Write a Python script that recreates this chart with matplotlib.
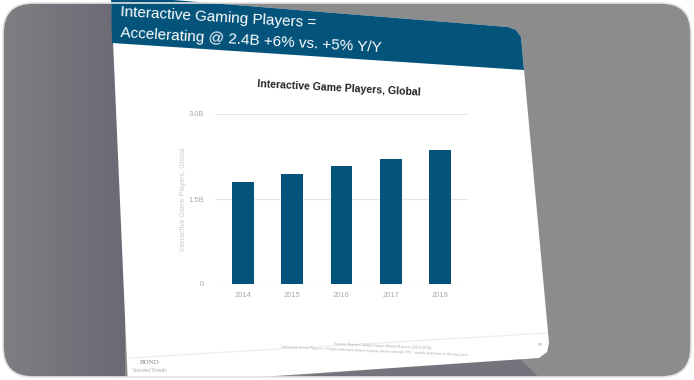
import numpy as np
import matplotlib
matplotlib.use("Agg")
import matplotlib.pyplot as plt
from matplotlib.patches import Polygon, FancyBboxPatch

# Datos del grafico
anios = ["2014", "2015", "2016", "2017", "2018"]
jugadores = [1.80, 1.95, 2.09, 2.21, 2.37]  # miles de millones
ticks_y = [0, 1.5, 3.0]
etiquetas_y = ["0", "1.5B", "3.0B"]

titulo_slide = ["Interactive Gaming Players =", "Accelerating @ 2.4B +6% vs. +5% Y/Y"]
titulo_chart = "Interactive Game Players, Global"
nota_fuente = "Source: Newzoo Global Games Market Reports (2014-2019)."
nota_def = ("Interactive Game Players = People who have played a game across "
            "console / PC / mobile platforms in the past year.")

AZUL = "#03537b"
W, H = 694, 380

plt.rcParams["font.family"] = ["Liberation Sans", "DejaVu Sans"]
fig = plt.figure(figsize=(W / 100, H / 100), dpi=100)
fig.patch.set_facecolor("white")

# fondo en coordenadas de pixel
bg = fig.add_axes([0, 0, 1, 1])
bg.set_xlim(0, W)
bg.set_ylim(H, 0)
bg.axis("off")

marco = FancyBboxPatch((3, 3), W - 6, H - 6, boxstyle="round,pad=0,rounding_size=30",
                       facecolor="none", edgecolor="#e4e4e4", lw=1.2, zorder=3)
bg.add_patch(marco)

# degradado gris (mas oscuro a la izquierda, bajo la diapositiva)
xs = np.linspace(0, 1, W)
izq = np.array([0x80, 0x7f, 0x82]) / 255
osc = np.array([0x6b, 0x69, 0x74]) / 255
der = np.array([0x8c, 0x8c, 0x8c]) / 255
grad = np.zeros((H, W, 3))
for i, x in enumerate(xs):
    px = x * W
    if px < 125:
        t = px / 125
        grad[:, i] = izq * (1 - t) + osc * t
    else:
        grad[:, i] = der
img = bg.imshow(grad, extent=(0, W, H, 0), zorder=1, aspect="auto")
clip = FancyBboxPatch((3, 3), W - 6, H - 6, boxstyle="round,pad=0,rounding_size=30",
                      facecolor="none", edgecolor="none", transform=bg.transData)
bg.add_patch(clip)
img.set_clip_path(clip)

# sombra bajo la esquina de la diapositiva
sombra = Polygon([(250, 380), (518, 357), (542, 380)], closed=True,
                 facecolor="#75747c", edgecolor="none", zorder=1.5)
bg.add_patch(sombra)
sombra.set_clip_path(clip)

# diapositiva blanca
slide = Polygon([(111, -5), (508, 27), (516, 30), (521, 37), (549, 343),
                 (547, 352), (539, 358), (128, 386)], closed=True,
                facecolor="white", edgecolor="none", zorder=2)
bg.add_patch(slide)

# cabecera azul
cabecera = Polygon([(111, -5), (508, 27), (516, 30), (521, 37), (524, 70), (112, 43)],
                   closed=True, facecolor=AZUL, edgecolor="none", zorder=2.1)
bg.add_patch(cabecera)

bg.text(120, 12, titulo_slide[0], color="white", fontsize=11, rotation=-3.3,
        rotation_mode="anchor", ha="left", va="center", zorder=4)
bg.text(120, 33, titulo_slide[1], color="white", fontsize=11, rotation=-3.3,
        rotation_mode="anchor", ha="left", va="center", zorder=4)

bg.text(339, 88, titulo_chart, color="#222222", fontsize=7.6, fontweight="bold",
        rotation=-3, rotation_mode="anchor", ha="center", va="center", zorder=4)

# pie de la diapositiva
bg.plot([128, 547], [358, 333], color="#ececec", lw=0.8, zorder=3)
bg.text(383, 346, nota_fuente, color="#aaaaaa", fontsize=2.6, rotation=-2.5,
        rotation_mode="anchor", ha="center", va="center", zorder=4)
bg.text(375, 351, nota_def, color="#aaaaaa", fontsize=2.6, rotation=-2.5,
        rotation_mode="anchor", ha="center", va="center", zorder=4)
bg.text(540, 345, "59", color="#999999", fontsize=3, ha="center", va="center", zorder=4)
bg.text(150, 363, "BOND", color="#888888", fontsize=5, family="Liberation Serif",
        ha="center", va="center", zorder=4)
bg.text(150, 371, "Internet Trends", color="#aaaaaa", fontsize=4, family="Liberation Serif",
        ha="center", va="center", zorder=4)

# grafico de barras
ax = fig.add_axes([215 / W, 1 - 284 / H, 253 / W, 170 / H])
ax.set_zorder(5)
ax.patch.set_alpha(0)
x = np.arange(len(anios))
ax.bar(x, jugadores, width=0.44, color=AZUL, zorder=3)
ax.set_xlim(-0.57, len(anios) - 0.43)
ax.set_ylim(0, 3.0)
ax.set_yticks(ticks_y)
ax.set_yticklabels(etiquetas_y)
ax.set_xticks(x)
ax.set_xticklabels(anios)
ax.tick_params(axis="both", length=0, labelsize=5.5, colors="#aaaaaa")
ax.tick_params(axis="y", pad=8)
ax.tick_params(axis="x", pad=6)
ax.grid(axis="y", color="#e6e6e6", lw=0.8, zorder=0)
for s in ax.spines.values():
    s.set_visible(False)
ax.set_ylabel("Interactive Game Players, Global", fontsize=5, color="#cccccc", labelpad=1)

plt.savefig("out.png", dpi=100)
